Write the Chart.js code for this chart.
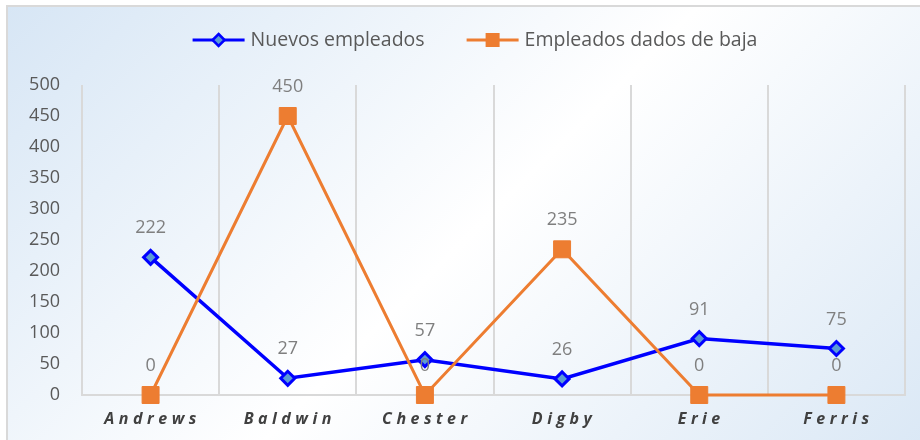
<!DOCTYPE html>
<html>
<head>
<meta charset="utf-8">
<script src="https://cdn.jsdelivr.net/npm/chart.js@4.4.1/dist/chart.umd.min.js"></script>
<style>
  html, body { margin: 0; padding: 0; background: #fff; }
  .frame {
    position: absolute; left: 6px; top: 5px; width: 930px; height: 450px;
    border-left: 2px solid #d9d9d9; border-top: 2px solid #d9d9d9;
    background: linear-gradient(135deg, #d7e6f5 0%, #ffffff 50%, #d9e7f5 100%);
  }
  #chart { position: absolute; left: 0; top: 0; }
</style>
</head>
<body>
<div class="frame"></div>
<canvas id="chart" width="920" height="440"></canvas>
<script>
const categories = ['Andrews', 'Baldwin', 'Chester', 'Digby', 'Erie', 'Ferris'];
const nuevosEmpleados = [222, 27, 57, 26, 91, 75];
const empleadosBaja = [0, 450, 0, 235, 0, 0];
const seriesNames = ['Nuevos empleados', 'Empleados dados de baja'];
const yMin = 0, yMax = 500, yStep = 50;

const BLUE = '#0000ff';
const BLUE_FILL = '#5b9bd5';
const ORANGE = '#ed7d31';
const FONT = "'Open Sans', sans-serif";

// data labels above each point
const valueLabels = {
  id: 'valueLabels',
  afterDatasetsDraw(chart) {
    const ctx = chart.ctx;
    ctx.save();
    ctx.font = '18px ' + FONT;
    ctx.fillStyle = '#7f7f7f';
    ctx.textAlign = 'center';
    ctx.textBaseline = 'middle';
    chart.data.datasets.forEach((ds, i) => {
      const meta = chart.getDatasetMeta(i);
      meta.data.forEach((pt, j) => {
        ctx.fillText(String(ds.data[j]), pt.x, pt.y - 29);
      });
    });
    ctx.restore();
  }
};

// bold italic spaced category labels + line/marker legend
const extras = {
  id: 'extras',
  afterDraw(chart) {
    const ctx = chart.ctx;
    const xs = chart.scales.x;
    ctx.save();
    ctx.font = 'italic bold 16px ' + FONT;
    ctx.fillStyle = '#404040';
    ctx.textAlign = 'center';
    ctx.textBaseline = 'middle';
    ctx.letterSpacing = '4.5px';
    categories.forEach((c, i) => {
      ctx.fillText(c, xs.getPixelForValue(i) + 2, xs.top + 24);
    });
    ctx.letterSpacing = '0px';

    // legend
    ctx.font = '19.5px ' + FONT;
    ctx.textAlign = 'left';
    ctx.fillStyle = '#595959';
    const lineLen = 52, gap = 6, itemGap = 42, y = 40;
    const w0 = ctx.measureText(seriesNames[0]).width;
    const w1 = ctx.measureText(seriesNames[1]).width;
    const total = lineLen + gap + w0 + itemGap + lineLen + gap + w1;
    let x = 475 - total / 2;
    // blue item
    ctx.strokeStyle = BLUE; ctx.lineWidth = 3;
    ctx.beginPath(); ctx.moveTo(x, y); ctx.lineTo(x + lineLen, y); ctx.stroke();
    const cx = x + lineLen / 2;
    ctx.beginPath();
    ctx.moveTo(cx, y - 6); ctx.lineTo(cx + 6, y); ctx.lineTo(cx, y + 6); ctx.lineTo(cx - 6, y);
    ctx.closePath();
    ctx.fillStyle = BLUE_FILL; ctx.fill(); ctx.lineWidth = 2.5; ctx.stroke();
    ctx.fillStyle = '#595959';
    ctx.fillText(seriesNames[0], x + lineLen + gap, y);
    x += lineLen + gap + w0 + itemGap;
    // orange item
    ctx.strokeStyle = ORANGE; ctx.lineWidth = 3;
    ctx.beginPath(); ctx.moveTo(x, y); ctx.lineTo(x + lineLen, y); ctx.stroke();
    ctx.fillStyle = ORANGE;
    ctx.fillRect(x + lineLen / 2 - 7, y - 7, 14, 14);
    ctx.fillStyle = '#595959';
    ctx.fillText(seriesNames[1], x + lineLen + gap, y);
    ctx.restore();
  }
};

new Chart(document.getElementById('chart'), {
  type: 'line',
  data: {
    labels: categories,
    datasets: [
      {
        label: seriesNames[0],
        data: nuevosEmpleados,
        borderColor: BLUE,
        borderWidth: 3.5,
        pointStyle: 'rectRot',
        pointRadius: 7,
        pointBackgroundColor: BLUE_FILL,
        pointBorderColor: BLUE,
        pointBorderWidth: 3,
        tension: 0,
        clip: false,
        order: 2
      },
      {
        label: seriesNames[1],
        data: empleadosBaja,
        borderColor: ORANGE,
        borderWidth: 3,
        pointStyle: 'rect',
        pointRadius: 12,
        pointBackgroundColor: ORANGE,
        pointBorderColor: ORANGE,
        pointBorderWidth: 1,
        tension: 0,
        clip: false,
        order: 1
      }
    ]
  },
  options: {
    responsive: false,
    animation: false,
    layout: { padding: { top: 85, right: 15, left: 0, bottom: 0 } },
    plugins: { legend: { display: false }, tooltip: { enabled: false } },
    scales: {
      x: {
        offset: true,
        grid: { offset: true, color: '#d9d9d9', lineWidth: 2, drawTicks: false },
        border: { color: '#d9d9d9', width: 2 },
        ticks: { display: false },
        afterFit(scale) { scale.height = 45; }
      },
      y: {
        min: yMin,
        max: yMax,
        grid: { display: false, drawTicks: false },
        border: { display: false },
        ticks: { stepSize: yStep, padding: 22, color: '#595959', font: { family: FONT, size: 18 } },
        afterFit(scale) { scale.width = 82; }
      }
    }
  },
  plugins: [valueLabels, extras]
});
</script>
</body>
</html>
